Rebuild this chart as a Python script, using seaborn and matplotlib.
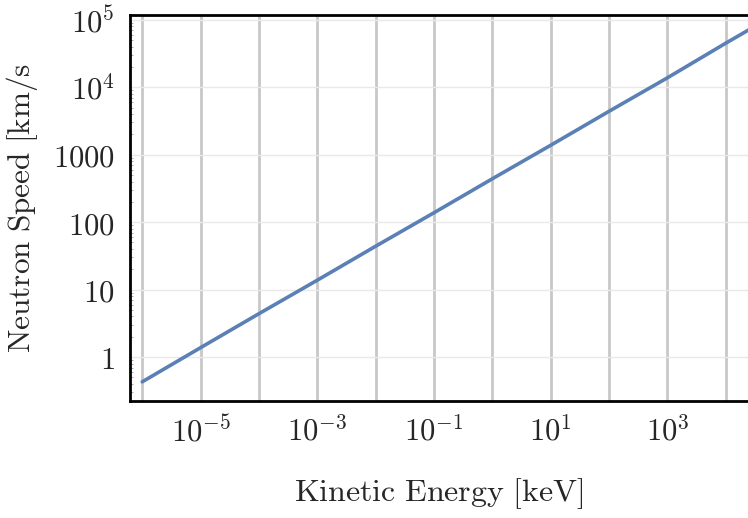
import numpy as np
import pandas as pd
import matplotlib
matplotlib.use("Agg")
import matplotlib.pyplot as plt
import matplotlib.ticker as mticker
import seaborn as sns

# values (energy in keV, speed in km/s)
energy_kev = [1e-6, 1e-5, 1e-4, 1e-3, 1e-2, 1e-1, 1e0, 1e1, 1e2, 1e3, 1e4, 3e4]
speed_kms = [0.43, 1.38, 4.4, 13.8, 44, 138, 440, 1380, 4400, 13800, 45000, 78000]

x_ticks = [1e-5, 1e-3, 1e-1, 1e1, 1e3]
x_ticklabels = [r"$10^{-5}$", r"$10^{-3}$", r"$10^{-1}$", r"$10^{1}$", r"$10^{3}$"]
x_grid = [10.0 ** k for k in range(-6, 5)]
y_ticks = [1, 10, 100, 1000, 1e4, 1e5]
y_ticklabels = [r"$1$", r"$10$", r"$100$", r"$1000$", r"$10^{4}$", r"$10^{5}$"]

df = pd.DataFrame({"energy": energy_kev, "speed": speed_kms})

sns.set_theme(style="white")
plt.rcParams["mathtext.fontset"] = "cm"
plt.rcParams["font.family"] = ["DejaVu Serif"]

fig = plt.figure(figsize=(7.48, 5.18), dpi=100)
ax = fig.add_axes([0.1738, 0.226, 0.8262, 0.745])

# grid lines first so the curve sits on top
for g in x_grid:
    ax.axvline(g, color="#c8c8c8", lw=2.0, zorder=1)
for g in y_ticks:
    ax.axhline(g, color="#e9e9e9", lw=1.0, zorder=1)

sns.lineplot(data=df, x="energy", y="speed", ax=ax, color="#5b80b6", lw=2.6, zorder=3)

ax.set_xscale("log")
ax.set_yscale("log")
ax.set_xlim(10 ** -6.21, 10 ** 4.38)
ax.set_ylim(10 ** -0.65, 10 ** 5.07)

ax.xaxis.set_major_locator(mticker.FixedLocator(x_ticks))
ax.xaxis.set_major_formatter(mticker.FixedFormatter(x_ticklabels))
ax.xaxis.set_minor_locator(mticker.NullLocator())
ax.yaxis.set_major_locator(mticker.FixedLocator(y_ticks))
ax.yaxis.set_major_formatter(mticker.FixedFormatter(y_ticklabels))

ax.tick_params(axis="both", which="major", direction="in", length=3, width=0.8,
               color="#555555", labelsize=22, pad=11, top=True)
ax.tick_params(axis="y", which="minor", direction="in", length=2, width=0.5,
               color="#888888", left=True)

ax.set_xlabel(r"$\mathrm{Kinetic\ Energy\ [keV]}$", fontsize=23, labelpad=20)
ax.set_ylabel(r"$\mathrm{Neutron\ Speed\ [km/s}$", fontsize=22.5, labelpad=9)

for side in ["top", "left", "bottom"]:
    ax.spines[side].set_color("black")
    ax.spines[side].set_linewidth(2.0)
ax.spines["right"].set_visible(False)

fig.savefig("out.png", dpi=100)
